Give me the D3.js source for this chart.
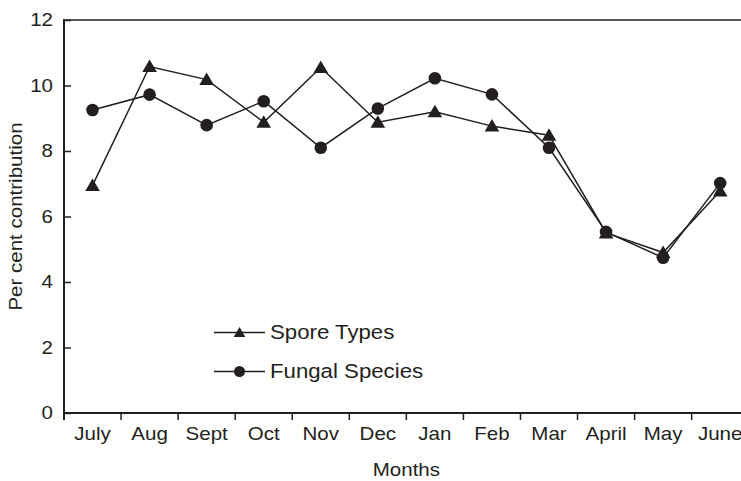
<!DOCTYPE html>
<html><head><meta charset="utf-8">
<script src="https://cdn.jsdelivr.net/npm/d3@7"></script>
<style>
body{margin:0;background:#fff;}
text{font-family:"Liberation Sans",Arial,sans-serif;fill:#231f20;}
</style></head>
<body><svg id="c" width="741" height="481"></svg>
<script>
const months = ["July","Aug","Sept","Oct","Nov","Dec","Jan","Feb","Mar","April","May","June"];
const sporeTypes = [6.95,10.58,10.18,8.88,10.55,8.88,9.2,8.76,8.48,5.5,4.9,6.78];
const fungalSpecies = [9.25,9.72,8.79,9.52,8.1,9.3,10.22,9.73,8.1,5.53,4.74,7.02];
const yTicks = [0,2,4,6,8,10,12];
const seriesNames = ["Spore Types","Fungal Species"];

const ink = "#231f20";
const svg = d3.select("#c");
const L = 64, T = 20, B = 413, bandW = 57.06;
const x = d3.scaleBand().domain(months).range([L, L + bandW*months.length]);
const y = d3.scaleLinear().domain([0,12]).range([B, T]);
const hs = 1.14; // horizontal text stretch

// top line
svg.append("line").attr("x1",L).attr("x2",741).attr("y1",T).attr("y2",T)
  .attr("stroke",ink).attr("stroke-width",1.3);

// y axis
const ya = svg.append("g").attr("transform",`translate(${L},0)`)
  .call(d3.axisRight(y).tickValues(yTicks).tickSize(7).tickFormat(d3.format("d")));
ya.select(".domain").remove();
ya.selectAll(".tick line").attr("stroke",ink).attr("stroke-width",1.5);
ya.selectAll(".tick text").attr("x",0).attr("text-anchor","end")
  .attr("font-size",18).attr("transform",`translate(-11,0) scale(${hs},1)`);
svg.append("line").attr("x1",L).attr("x2",L).attr("y1",T-1).attr("y2",B+7)
  .attr("stroke",ink).attr("stroke-width",2);

// x axis
svg.append("line").attr("x1",L).attr("x2",741).attr("y1",B).attr("y2",B)
  .attr("stroke",ink).attr("stroke-width",2);
const bounds = months.map(m => x(m)).concat([x.range()[1]]);
svg.selectAll("line.xt").data(bounds).join("line").attr("class","xt")
  .attr("x1",d=>d).attr("x2",d=>d).attr("y1",B).attr("y2",B+7)
  .attr("stroke",ink).attr("stroke-width",1.5);
svg.selectAll("text.xl").data(months).join("text").attr("class","xl")
  .attr("text-anchor","middle").attr("font-size",18)
  .attr("transform",d=>`translate(${x(d)+x.bandwidth()/2},${B+27}) scale(${hs},1)`)
  .text(d=>d);

// titles
svg.append("text").attr("text-anchor","middle").attr("font-size",18)
  .attr("transform",`translate(${x.range()[0]/2+x.range()[1]/2},${B+63}) scale(${hs},1)`)
  .text("Months");
svg.append("text").attr("text-anchor","middle").attr("font-size",18)
  .attr("transform",`translate(22,${(T+B)/2}) rotate(-90) scale(${hs},1)`)
  .text("Per cent contribution");

const cx = d => x(d)+x.bandwidth()/2;
const line = d3.line().x(d=>cx(d.m)).y(d=>y(d.v));
const tri = (s) => `M0,${-7*s}L${7.3*s},${5.5*s}L${-7.3*s},${5.5*s}Z`;

function drawSeries(vals, kind){
  const data = months.map((m,i)=>({m, v: vals[i]}));
  svg.append("path").datum(data).attr("d",line).attr("fill","none")
    .attr("stroke",ink).attr("stroke-width",1.5);
  const g = svg.append("g");
  if(kind==="tri"){
    g.selectAll("path").data(data).join("path").attr("d",tri(1))
      .attr("transform",d=>`translate(${cx(d.m)},${y(d.v)})`).attr("fill",ink);
  } else {
    g.selectAll("circle").data(data).join("circle").attr("r",6.3)
      .attr("cx",d=>cx(d.m)).attr("cy",d=>y(d.v)).attr("fill",ink);
  }
}
drawSeries(fungalSpecies,"circ");
drawSeries(sporeTypes,"tri");

// legend
const leg = [{n:seriesNames[0],k:"tri",y:332.5},{n:seriesNames[1],k:"circ",y:371.5}];
leg.forEach(l=>{
  svg.append("line").attr("x1",214).attr("x2",265).attr("y1",l.y).attr("y2",l.y)
    .attr("stroke",ink).attr("stroke-width",1.5);
  if(l.k==="tri") svg.append("path").attr("d",tri(0.8)).attr("transform",`translate(239.5,${l.y})`).attr("fill",ink);
  else svg.append("circle").attr("cx",239.5).attr("cy",l.y).attr("r",5.5).attr("fill",ink);
  svg.append("text").attr("font-size",19.5).attr("dominant-baseline","central")
    .attr("transform",`translate(270,${l.y}) scale(${hs},1)`).text(l.n);
});
</script></body></html>
